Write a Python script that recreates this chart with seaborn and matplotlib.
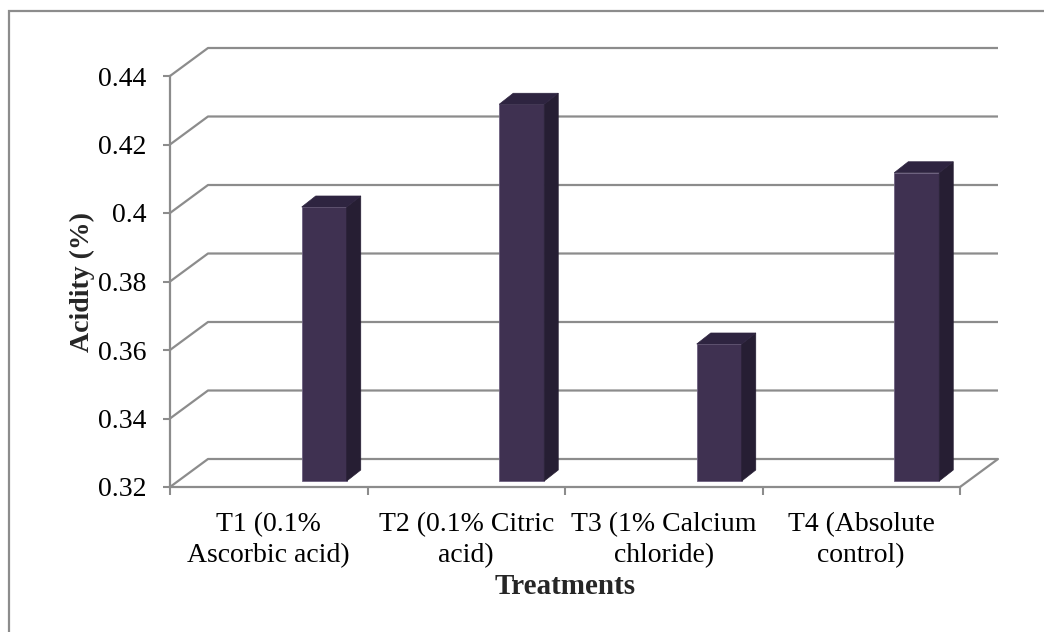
import matplotlib
matplotlib.use("Agg")
import matplotlib.pyplot as plt
from matplotlib.patches import Polygon, Rectangle
import seaborn as sns
import pandas as pd

# ---- data ----
treatments = [
    "T1 (0.1%\nAscorbic acid)",
    "T2 (0.1% Citric\nacid)",
    "T3 (1% Calcium\nchloride)",
    "T4 (Absolute\ncontrol)",
]
acidity = [0.40, 0.43, 0.36, 0.41]
y_ticks = [0.32, 0.34, 0.36, 0.38, 0.40, 0.42, 0.44]

# ---- styling ----
sns.set_style("white")
plt.rcParams["font.family"] = ["Liberation Serif", "DejaVu Serif"]

W, H, DPI = 1044, 632, 100
GRID = "#8C8C8C"
FRONT = "#3F3151"
TOP = "#2E2440"
SIDE = "#261E33"
FS = 20

fig = plt.figure(figsize=(W / DPI, H / DPI), dpi=DPI)

# front plane of the plot box, in pixels
left_px, right_px, top_px, bottom_px = 170, 960, 76, 487
ax = fig.add_axes([left_px / W, 1 - bottom_px / H,
                   (right_px - left_px) / W, (bottom_px - top_px) / H])

ymin, ymax = y_ticks[0], y_ticks[-1]
n = len(treatments)
ux = n / (right_px - left_px)              # data units per pixel (x)
uy = (ymax - ymin) / (bottom_px - top_px)  # data units per pixel (y)

df = pd.DataFrame({"Treatments": treatments, "Acidity": acidity})
bar_w_px = 45
sns.barplot(data=df, x="Treatments", y="Acidity", color=FRONT,
            width=bar_w_px * ux, ax=ax, saturation=1,
            edgecolor="#6E6180", linewidth=0.6, zorder=3)

ax.set_xlim(-0.5, n - 0.5)
ax.set_ylim(ymin, ymax)

# oblique depth of the wall and of the bars
wall_dx, wall_dy = 38 * ux, 28 * uy
bar_shift_x, bar_shift_y = 55.5 * ux, 6 * uy
depth_dx, depth_dy = 14 * ux, 11 * uy

# back wall gridlines with their diagonal links to the front axis
for v in y_ticks:
    ax.plot([-0.5, -0.5 + wall_dx, n - 0.5 + wall_dx],
            [v, v + wall_dy, v + wall_dy],
            color=GRID, lw=1.6, clip_on=False, zorder=1,
            solid_capstyle="butt")
# right edge of the floor
ax.plot([n - 0.5, n - 0.5 + wall_dx], [ymin, ymin + wall_dy],
        color=GRID, lw=1.6, clip_on=False, zorder=1)

# turn the flat bars into prisms
for p, v in zip(ax.patches, acidity):
    x0 = p.get_x() + bar_shift_x
    p.set_x(x0)
    p.set_y(ymin + bar_shift_y)
    p.set_height(v - ymin)
    p.set_clip_on(False)
    x1 = x0 + p.get_width()
    y0 = ymin + bar_shift_y
    y1 = v + bar_shift_y
    side = Polygon([(x1, y0), (x1 + depth_dx, y0 + depth_dy),
                    (x1 + depth_dx, y1 + depth_dy), (x1, y1)],
                   closed=True, facecolor=SIDE, edgecolor=SIDE,
                   lw=0.5, zorder=3, clip_on=False)
    top = Polygon([(x0, y1), (x1, y1), (x1 + depth_dx, y1 + depth_dy),
                   (x0 + depth_dx, y1 + depth_dy)],
                  closed=True, facecolor=TOP, edgecolor=TOP,
                  lw=0.5, zorder=3, clip_on=False)
    ax.add_patch(side)
    ax.add_patch(top)

# axes lines and ticks
for s in ["top", "right"]:
    ax.spines[s].set_visible(False)
for s in ["left", "bottom"]:
    ax.spines[s].set_color(GRID)
    ax.spines[s].set_linewidth(1.6)
    ax.spines[s].set_zorder(2)

ax.set_yticks(y_ticks)
ax.set_yticklabels([f"{t:g}" for t in y_ticks])
ax.tick_params(axis="y", length=5, width=1.5, color=GRID, pad=12,
               labelsize=FS, labelcolor="black", left=True)

ax.set_xticks(range(n))
ax.set_xticklabels(treatments, linespacing=1.3)
ax.set_xticks([i - 0.5 for i in range(n + 1)], minor=True)
ax.tick_params(axis="x", which="major", length=0, pad=18, labelsize=FS,
               labelcolor="black")
ax.tick_params(axis="x", which="minor", length=6, width=1.5, color=GRID,
               bottom=True)

ax.set_ylabel("Acidity (%)", fontsize=FS, fontweight="bold", va="center")
ax.yaxis.set_label_coords((82 - left_px) / (right_px - left_px), 0.5)
ax.set_xlabel("Treatments", fontsize=FS + 1, fontweight="bold", va="center")
ax.xaxis.set_label_coords(0.5, (bottom_px - 587) / (bottom_px - top_px))

# chart area frame
fig.add_artist(Rectangle((9 / W, -0.1), 2.0, 1.1 - 11 / H,
                         transform=fig.transFigure, fill=False,
                         edgecolor=GRID, lw=1.6))

fig.savefig("out.png", dpi=DPI, facecolor="white")
